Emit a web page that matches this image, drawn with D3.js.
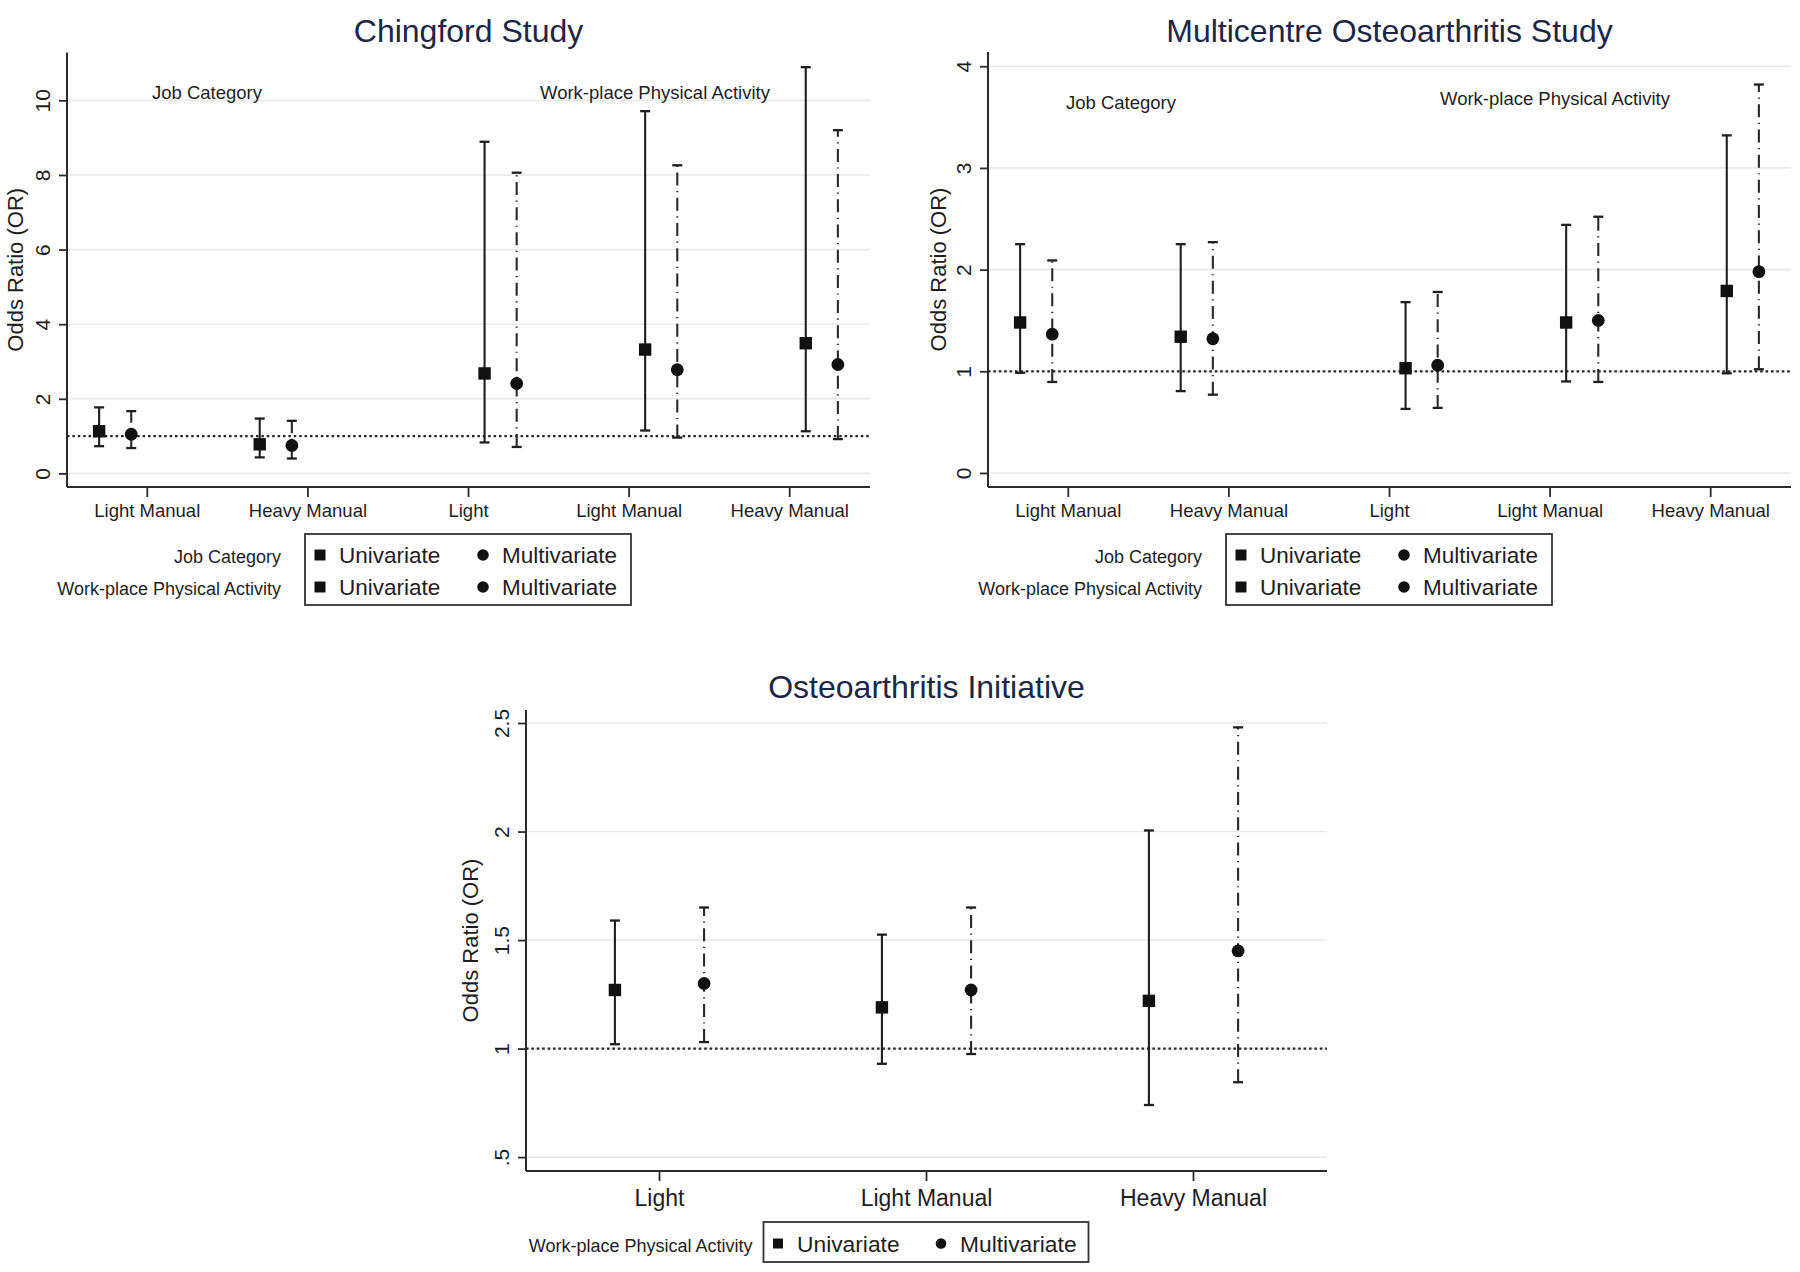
<!DOCTYPE html>
<html><head><meta charset="utf-8">
<script src="https://cdn.jsdelivr.net/npm/d3@7/dist/d3.min.js"></script>
<style>
body{margin:0;background:#fff}
svg{display:block}
text{font-family:"Liberation Sans",Arial,Helvetica,sans-serif;fill:#1e1e1e}
</style>
</head><body>
<svg id="chart" width="1800" height="1272"></svg>
<script>
// ---------------- DATA ----------------
const yAxisTitle = "Odds Ratio (OR)";
const groupJob = "Job Category";
const groupWpa = "Work-place Physical Activity";
const seriesNames = ["Univariate", "Multivariate"];

// Chingford Study
const chingfordCategories = ["Light Manual", "Heavy Manual", "Light", "Light Manual", "Heavy Manual"];
const chingfordGroups = ["job", "job", "wpa", "wpa", "wpa"];
const chingfordUniOR = [1.13, 0.78, 2.68, 3.32, 3.49];
const chingfordUniLo = [0.73, 0.43, 0.83, 1.15, 1.13];
const chingfordUniHi = [1.77, 1.47, 8.89, 9.71, 10.89];
const chingfordMultiOR = [1.05, 0.75, 2.41, 2.78, 2.92];
const chingfordMultiLo = [0.68, 0.40, 0.71, 0.96, 0.92];
const chingfordMultiHi = [1.67, 1.41, 8.06, 8.26, 9.20];
const chingfordTicks = [0, 2, 4, 6, 8, 10];

// Multicentre Osteoarthritis Study
const mostCategories = ["Light Manual", "Heavy Manual", "Light", "Light Manual", "Heavy Manual"];
const mostGroups = ["job", "job", "wpa", "wpa", "wpa"];
const mostUniOR = [1.48, 1.34, 1.03, 1.48, 1.79];
const mostUniLo = [0.985, 0.805, 0.63, 0.90, 0.98];
const mostUniHi = [2.25, 2.25, 1.68, 2.44, 3.32];
const mostMultiOR = [1.365, 1.32, 1.06, 1.50, 1.98];
const mostMultiLo = [0.895, 0.77, 0.64, 0.895, 1.02];
const mostMultiHi = [2.09, 2.27, 1.78, 2.52, 3.82];
const mostTicks = [0, 1, 2, 3, 4];

// Osteoarthritis Initiative
const oaiCategories = ["Light", "Light Manual", "Heavy Manual"];
const oaiGroups = ["wpa", "wpa", "wpa"];
const oaiUniOR = [1.27, 1.19, 1.22];
const oaiUniLo = [1.02, 0.93, 0.74];
const oaiUniHi = [1.59, 1.525, 2.005];
const oaiMultiOR = [1.30, 1.27, 1.45];
const oaiMultiLo = [1.03, 0.975, 0.845];
const oaiMultiHi = [1.65, 1.65, 2.48];
const oaiTicks = [0.5, 1, 1.5, 2, 2.5];
const oaiTickLabels = [".5", "1", "1.5", "2", "2.5"];

// ---------------- DRAW ----------------
const svg = d3.select("#chart");
const INK = "#1e1e1e";
const AXIS = "#2b2b2b";

function panel(cfg) {
  const g = svg.append("g");
  const n = cfg.categories.length;
  const x = d3.scaleBand().domain(d3.range(n)).range([cfg.left, cfg.right]).paddingInner(0).paddingOuter(0);
  const step = x.bandwidth();
  const cx = i => x(i) + step / 2;
  const y = d3.scaleLinear().domain(cfg.yDomain).range([cfg.bottom, cfg.top]);

  // gridlines
  g.append("g").selectAll("line").data(cfg.ticks).join("line")
    .attr("x1", cfg.left + 2).attr("x2", cfg.right)
    .attr("y1", d => y(d)).attr("y2", d => y(d))
    .attr("stroke", "#e9e9e9").attr("stroke-width", 1.6);

  // reference line at OR = 1
  g.append("line")
    .attr("x1", cfg.left).attr("x2", cfg.right)
    .attr("y1", y(1)).attr("y2", y(1))
    .attr("stroke", "#262626").attr("stroke-width", 2.2)
    .attr("stroke-dasharray", "2.5,2.9");

  // y axis
  const yAxis = d3.axisLeft(y).tickValues(cfg.ticks).tickSize(8).tickPadding(0)
    .tickFormat((d, i) => cfg.tickLabels ? cfg.tickLabels[i] : String(d));
  const ya = g.append("g").attr("transform", `translate(${cfg.left},0)`).call(yAxis);
  ya.select(".domain").attr("d", `M0,${cfg.top}V${cfg.bottom}`).attr("stroke", AXIS).attr("stroke-width", 2);
  ya.selectAll(".tick line").attr("stroke", AXIS).attr("stroke-width", 1.8);
  ya.selectAll(".tick text")
    .attr("x", null).attr("dy", null)
    .attr("text-anchor", "middle")
    .attr("transform", "translate(-17,0) rotate(-90)")
    .attr("font-size", cfg.yTickSize)
    .style("font-family", '"Liberation Sans",Arial,sans-serif')
    .attr("fill", INK);

  // x axis
  const xAxis = d3.axisBottom(x).tickSize(10).tickPadding(0).tickFormat(i => cfg.categories[i]);
  const xa = g.append("g").attr("transform", `translate(0,${cfg.bottom})`).call(xAxis);
  xa.select(".domain").attr("d", `M${cfg.left},0H${cfg.right}`).attr("stroke", AXIS).attr("stroke-width", 2);
  xa.selectAll(".tick line").attr("stroke", AXIS).attr("stroke-width", 1.8);
  xa.selectAll(".tick text")
    .attr("y", cfg.xLabelBaseline - cfg.bottom).attr("dy", null)
    .attr("font-size", cfg.xTickSize)
    .style("font-family", '"Liberation Sans",Arial,sans-serif')
    .attr("fill", INK);

  // y title
  g.append("text")
    .attr("transform", `translate(${cfg.left - cfg.yTitleOffset},${(cfg.top + cfg.bottom) / 2}) rotate(-90)`)
    .attr("text-anchor", "middle").attr("font-size", 22).text(yAxisTitle);

  // title
  g.append("text")
    .attr("x", (cfg.left + cfg.right) / 2).attr("y", cfg.titleBaseline)
    .attr("text-anchor", "middle").attr("font-size", 32)
    .style("fill", "#1c2646").text(cfg.title);

  // annotations
  (cfg.annotations || []).forEach(a => {
    g.append("text").attr("x", a.x).attr("y", a.y).attr("text-anchor", "middle")
      .attr("font-size", 18.5).text(a.text);
  });

  // series
  const series = [
    { or: cfg.uniOR, lo: cfg.uniLo, hi: cfg.uniHi, marker: "square", dash: null, key: 0 },
    { or: cfg.multiOR, lo: cfg.multiLo, hi: cfg.multiHi, marker: "circle", dash: "13,5.5,1.2,5.5", key: 1 }
  ];
  const capW = 5;
  series.forEach(s => {
    const px = i => cx(i) + cfg.offset(cfg.groups[i], s.key) * step;
    const sg = g.append("g");
    const idx = d3.range(n);
    sg.selectAll("line.bar").data(idx).join("line").attr("class", "bar")
      .attr("x1", px).attr("x2", px)
      .attr("y1", i => y(s.lo[i])).attr("y2", i => y(s.hi[i]))
      .attr("stroke", s.dash ? "#2a2a2a" : INK).attr("stroke-width", 2.1)
      .attr("stroke-dasharray", s.dash);
    ["lo", "hi"].forEach(k => {
      sg.selectAll("line.cap" + k).data(idx).join("line").attr("class", "cap" + k)
        .attr("x1", i => px(i) - capW).attr("x2", i => px(i) + capW)
        .attr("y1", i => y(s[k][i])).attr("y2", i => y(s[k][i]))
        .attr("stroke", INK).attr("stroke-width", 2.3);
    });
    if (s.marker === "square") {
      sg.selectAll("rect").data(idx).join("rect")
        .attr("x", i => px(i) - 6.2).attr("y", i => y(s.or[i]) - 6.2)
        .attr("width", 12.4).attr("height", 12.4).attr("fill", "#111");
    } else {
      sg.selectAll("circle").data(idx).join("circle")
        .attr("cx", px).attr("cy", i => y(s.or[i])).attr("r", 6.4).attr("fill", "#111");
    }
  });

  // legend
  const L = cfg.legend;
  g.append("rect").attr("x", L.x).attr("y", L.y).attr("width", L.w).attr("height", L.h)
    .attr("fill", "none").attr("stroke", "#333").attr("stroke-width", 1.8);
  L.rows.forEach((label, r) => {
    const base = L.firstBaseline + r * L.rowGap;
    const mid = base - L.symLift;
    g.append("text").attr("x", L.x - L.labelGap).attr("y", base).attr("text-anchor", "end")
      .attr("font-size", 18).text(label);
    g.append("rect").attr("x", L.x + L.sqX - L.sym / 2).attr("y", mid - L.sym / 2)
      .attr("width", L.sym).attr("height", L.sym).attr("fill", "#111");
    g.append("text").attr("x", L.x + L.t1X).attr("y", base).attr("font-size", L.fs).text(seriesNames[0]);
    g.append("circle").attr("cx", L.x + L.ciX).attr("cy", mid).attr("r", L.sym / 2 + 0.3).attr("fill", "#111");
    g.append("text").attr("x", L.x + L.t2X).attr("y", base).attr("font-size", L.fs).text(seriesNames[1]);
  });
}

const offsetTop = (grp, k) => grp === "job" ? (k === 0 ? -0.3 : -0.1) : (k === 0 ? 0.1 : 0.3);
const offsetOai = (grp, k) => k === 0 ? -0.167 : 0.167;

panel({
  title: "Chingford Study", titleBaseline: 42,
  categories: chingfordCategories, groups: chingfordGroups,
  uniOR: chingfordUniOR, uniLo: chingfordUniLo, uniHi: chingfordUniHi,
  multiOR: chingfordMultiOR, multiLo: chingfordMultiLo, multiHi: chingfordMultiHi,
  ticks: chingfordTicks, yDomain: [-0.364, 11.28],
  left: 67, right: 870, top: 52.6, bottom: 487,
  xLabelBaseline: 517, xTickSize: 18.5, yTickSize: 21, yTitleOffset: 44,
  offset: offsetTop,
  annotations: [{ text: groupJob, x: 207, y: 99 }, { text: groupWpa, x: 655, y: 99 }],
  legend: { x: 305, y: 534, w: 326, h: 71, rows: [groupJob, groupWpa], firstBaseline: 563, rowGap: 32,
            symLift: 8, sym: 11, sqX: 15, t1X: 34, ciX: 178, t2X: 197, fs: 22.5, labelGap: 24 }
});

panel({
  title: "Multicentre Osteoarthritis Study", titleBaseline: 42,
  categories: mostCategories, groups: mostGroups,
  uniOR: mostUniOR, uniLo: mostUniLo, uniHi: mostUniHi,
  multiOR: mostMultiOR, multiLo: mostMultiLo, multiHi: mostMultiHi,
  ticks: mostTicks, yDomain: [-0.138, 4.14],
  left: 988, right: 1791, top: 52, bottom: 487,
  xLabelBaseline: 517, xTickSize: 18.5, yTickSize: 21, yTitleOffset: 42,
  offset: offsetTop,
  annotations: [{ text: groupJob, x: 1121, y: 109 }, { text: groupWpa, x: 1555, y: 105 }],
  legend: { x: 1226, y: 534, w: 326, h: 71, rows: [groupJob, groupWpa], firstBaseline: 563, rowGap: 32,
            symLift: 8, sym: 11, sqX: 15, t1X: 34, ciX: 178, t2X: 197, fs: 22.5, labelGap: 24 }
});

panel({
  title: "Osteoarthritis Initiative", titleBaseline: 698,
  categories: oaiCategories, groups: oaiGroups,
  uniOR: oaiUniOR, uniLo: oaiUniLo, uniHi: oaiUniHi,
  multiOR: oaiMultiOR, multiLo: oaiMultiLo, multiHi: oaiMultiHi,
  ticks: oaiTicks, tickLabels: oaiTickLabels, yDomain: [0.436, 2.56],
  left: 526, right: 1327, top: 710, bottom: 1171,
  xLabelBaseline: 1206, xTickSize: 23, yTickSize: 21, yTitleOffset: 48,
  offset: offsetOai,
  annotations: [],
  legend: { x: 763.5, y: 1222, w: 325, h: 40, rows: [groupWpa], firstBaseline: 1252, rowGap: 0,
            symLift: 8.5, sym: 10, sqX: 14.5, t1X: 33.5, ciX: 177.5, t2X: 196.5, fs: 22.8, labelGap: 11 }
});
</script>
</body></html>
